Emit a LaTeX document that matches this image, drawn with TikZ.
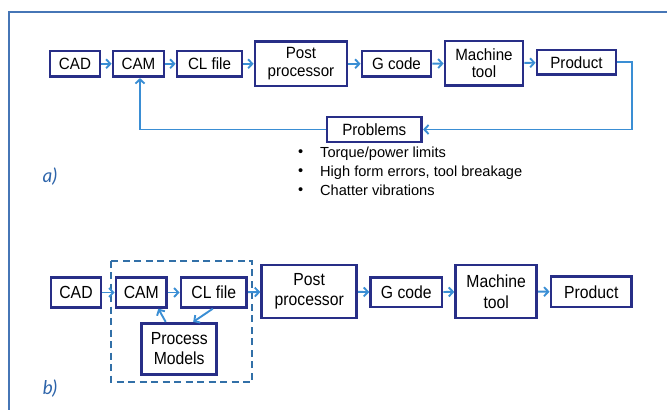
\documentclass[tikz,border=0pt]{standalone}
\usepackage{fontspec}
\setmainfont{Liberation Sans}
\newfontfamily\boxfonta[FakeStretch=0.93]{Liberation Sans}
\newfontfamily\boxfontb[FakeStretch=0.9]{Liberation Sans}
\newfontfamily\lblfont{Lato}
\usetikzlibrary{arrows.meta,calc}

\definecolor{boxnavy}{RGB}{40,46,135}
\definecolor{linkblue}{RGB}{58,142,212}
\definecolor{framblue}{RGB}{70,118,182}
\definecolor{dashblue}{RGB}{50,112,168}
\definecolor{lblblue}{RGB}{45,100,170}

\tikzset{
  x=1pt, y=-1pt,
  procbox/.style={draw=boxnavy, line width=2.8pt, fill=white, inner sep=0pt,
    align=center, text=black},
  boxa/.style={procbox, font=\boxfonta\fontsize{16.3}{17.5}\selectfont},
  boxb/.style={procbox, font=\boxfontb\fontsize{17.5}{20.5}\selectfont},
  link/.style={draw=linkblue, line width=1.9pt,
    -{Straight Barb[length=4.2pt,width=9pt,line width=1.9pt]}},
  bullettext/.style={anchor=west, inner sep=0pt, font=\fontsize{14.6}{16}\selectfont},
  partlabel/.style={text=lblblue, font=\lblfont\itshape\fontsize{19}{20}\selectfont, inner sep=0pt},
}

\begin{document}
\begin{tikzpicture}
\useasboundingbox (0,0) rectangle (667,410);

% open frame: top and left edges
\draw[framblue, line width=1.6pt] (667,12) -- (9,12) -- (9,410);

% ---------- part a: conventional chain ----------
\node[boxa, minimum width=50pt,   minimum height=25.7pt] (acad)  at (75,63.8)    {CAD};
\node[boxa, minimum width=51pt,   minimum height=25.7pt] (acam)  at (138.5,63.8) {CAM};
\node[boxa, minimum width=65pt,   minimum height=25.7pt] (acl)   at (209.5,63.8) {CL file};
\node[boxa, minimum width=92pt,   minimum height=44.5pt] (apost) at (301,63.8)   {Post\\processor};
\node[boxa, minimum width=69pt,   minimum height=25.7pt] (agc)   at (396.5,63.8) {G code};
\node[boxa, minimum width=78pt,   minimum height=44.5pt] (amt)   at (484,63.3)   {Machine\\tool};
\node[boxa, minimum width=79pt,   minimum height=24.5pt] (aprod) at (576.5,62.3) {Product};
\node[boxa, minimum width=94.7pt, minimum height=25pt]   (aprob) at (374.3,129.5) {Problems};

\coordinate (aturn) at (631.7,129.5);

\draw[link] (acad) -- (acam);
\draw[link] (acam) -- (acl);
\draw[link] (acl) -- (apost);
\draw[link] (apost) -- (agc);
\draw[link] (agc) -- (amt);
\draw[link] (amt) -- (aprod);
\draw[link] (aprod.east) -| (aturn) -- (aprob.east);
\draw[link] (aprob.west) -| ([xshift=1.5pt]acam.south);

% list of problems
\node[bullettext] (dot1) at (298,153.3) {\textbullet};
\node[bullettext] (dot2) at (298,172.3) {\textbullet};
\node[bullettext] (dot3) at (298,190.7) {\textbullet};
\node[bullettext] (item1) at (320,153.3) {Torque/power limits};
\node[bullettext] (item2) at (320,172.3) {High form errors, tool breakage};
\node[bullettext] (item3) at (320,190.7) {Chatter vibrations};

\node[partlabel] (labela) at (50,177) {a)};

% ---------- part b: chain with process models ----------
\draw[dashblue, line width=1.8pt, dash pattern=on 7pt off 4.5pt] (111,260.7) rectangle (252.3,381.7);

\node[boxb, minimum width=50pt,   minimum height=29.6pt] (bcad)  at (76,292.5)    {CAD};
\node[boxb, minimum width=50.7pt, minimum height=29.6pt] (bcam)  at (141.3,292.5) {CAM};
\node[boxb, minimum width=65.7pt, minimum height=29.6pt] (bcl)   at (213.8,292.5) {CL file};
\node[boxb, minimum width=75pt,   minimum height=51pt]   (bpm)   at (179.2,348.8) {Process\\Models};
\node[boxb, minimum width=95pt,   minimum height=53pt]   (bpost) at (309.2,291.5) {Post\\processor};
\node[boxb, minimum width=71.3pt, minimum height=29.3pt] (bgc)   at (406.3,292.3) {G code};
\node[boxb, minimum width=81pt,   minimum height=53pt]   (bmt)   at (496.2,291.5) {Machine\\tool};
\node[boxb, minimum width=80.7pt, minimum height=30.3pt] (bprod) at (591.3,291.8) {Product};

\draw[link] (bcad) -- (bcam);
\draw[link] (bcam) -- (bcl);
\draw[link] (bcl) -- (bpost);
\draw[link] (bpost) -- (bgc);
\draw[link] (bgc) -- (bmt);
\draw[link] (bmt) -- (bprod);
\draw[link] ([xshift=-13.5pt]bpm.north) -- ([xshift=17pt]bcam.south);
\draw[link] ([xshift=-1pt]bcl.south) -- ([xshift=14pt]bpm.north);

\node[partlabel] (labelb) at (50,389) {b)};
\end{tikzpicture}
\end{document}
